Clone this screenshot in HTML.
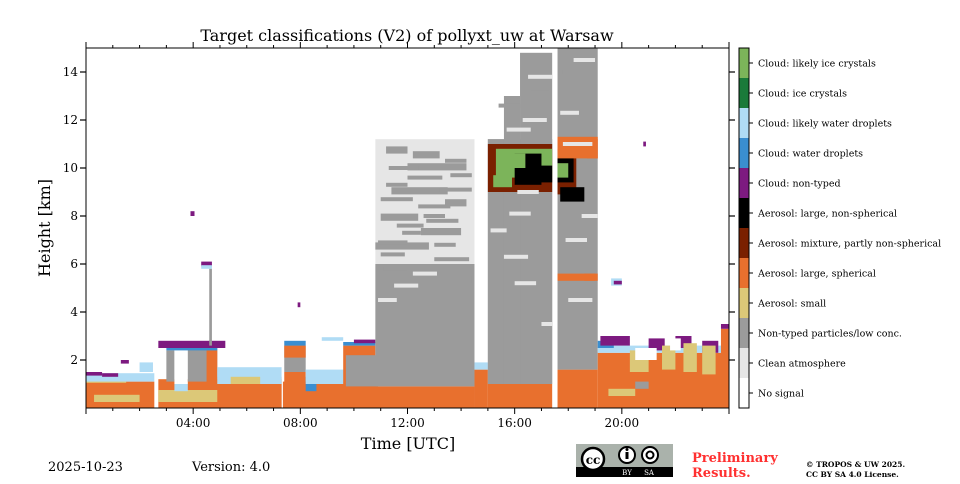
<!DOCTYPE html>
<html><head><meta charset="utf-8">
<style>
body{margin:0;background:#fff;width:960px;height:480px;overflow:hidden;font-family:"DejaVu Serif","Liberation Serif",serif;}
svg text{font-family:"DejaVu Serif","Liberation Serif",serif;}
</style></head>
<body>
<svg id="chart" width="960" height="480" viewBox="0 0 960 480" xmlns="http://www.w3.org/2000/svg">
<text x="407" y="41" font-size="16" text-anchor="middle">Target classifications (V2) of pollyxt_uw at Warsaw</text>
<g id="plot"></g>
<g id="axes"></g>
<text transform="translate(50,228) rotate(-90)" font-size="16" text-anchor="middle">Height [km]</text>
<text x="408" y="449" font-size="16" text-anchor="middle">Time [UTC]</text>
<g id="cbar"></g>
<text x="48" y="471" font-size="13">2025-10-23</text>
<text x="192" y="471" font-size="13">Version: 4.0</text>
<g>
<rect x="576" y="444" width="97" height="33" fill="#aab2ab"/>
<rect x="576" y="467" width="97" height="10" fill="#000"/>
<circle cx="593" cy="459" r="11" fill="#fff" stroke="#000" stroke-width="2.5"/>
<text x="593" y="464" font-size="12" font-weight="bold" text-anchor="middle" font-family="Liberation Sans,sans-serif">cc</text>
<circle cx="627" cy="455" r="8" fill="#fff" stroke="#000" stroke-width="2"/>
<rect x="625.5" y="452" width="3" height="7" fill="#000"/><circle cx="627" cy="449.5" r="1.5" fill="#000"/>
<circle cx="650" cy="455" r="8" fill="#fff" stroke="#000" stroke-width="2"/>
<circle cx="650" cy="455" r="3.5" fill="none" stroke="#000" stroke-width="2"/>
<text x="627" y="475" font-size="7" fill="#fff" text-anchor="middle" font-family="Liberation Sans,sans-serif">BY</text>
<text x="649" y="475" font-size="7" fill="#fff" text-anchor="middle" font-family="Liberation Sans,sans-serif">SA</text>
</g>
<text x="692" y="462" font-size="13" font-weight="bold" fill="#ff3030">Preliminary</text>
<text x="692" y="477" font-size="13" font-weight="bold" fill="#ff3030">Results.</text>
<text x="806" y="467" font-size="7.5" font-weight="bold">© TROPOS &amp; UW 2025.</text>
<text x="806" y="477" font-size="7.5" font-weight="bold">CC BY SA 4.0 License.</text>
</svg>
<script>
// class names (bottom to top) and colours
const classNames = ["No signal","Clean atmosphere","Non-typed particles/low conc.","Aerosol: small","Aerosol: large, spherical","Aerosol: mixture, partly non-spherical","Aerosol: large, non-spherical","Cloud: non-typed","Cloud: water droplets","Cloud: likely water droplets","Cloud: ice crystals","Cloud: likely ice crystals"];
const classColors = ["#ffffff","#e6e6e6","#9b9b9b","#dcc878","#e8702e","#7a2000","#000000","#7d1a80","#3a8ed0","#b0dcf5","#1a7a3a","#7cb45a"];
const xTickHours = [4,8,12,16,20];
const xTickLabels = ["04:00","08:00","12:00","16:00","20:00"];
const yTicks = [2,4,6,8,10,12,14];
// observed segments: start hour, end hour, bottom km, top km, class
const segStart = [0,0.3,0,0,0,0.6,1.3,2.0, 2.7,2.7,2.7,3.0,3.3,3.3,3.8,4.5,3.0,2.7,4.9,4.9,5.4,4.3,4.3,4.6,3.9,
 7.35,7.4,7.4,7.4,7.4,8.2,8.2,9.6,9.7,9.6,10.0,8.8,7.9,
 10.8,10.8,10.8,10.8,10.8,11.0,11.4,12.0,12.5,13.0,11.2,12.2,13.4,
 14.5,14.5,15.0,15.0,15.0,15.6,16.2,15.0,15.3,16.0,15.2,16.8,15.4,
 17.6,17.6,17.6,17.6,17.6,17.6,17.6,17.7,18.7,18.6,
 19.1,19.1,19.1,19.2,21.0,22.0,23.0,20.3,21.5,22.3,23.0,19.5,20.5,20.5,21.8,23.7,23.7,19.6,19.7,20.8];
const segEnd = [2.55,2.0,1.5,2.55,0.6,1.2,1.6,2.5, 7.3,5.5,7.3,3.3,3.8,3.8,4.9,4.9,4.9,5.2,7.3,7.3,6.5,4.7,4.7,4.7,4.05,
 10.9,8.2,8.2,8.2,8.2,8.6,10.0,10.8,10.9,10.8,10.8,9.6,8.0,
 14.5,14.5,14.5,14.5,12.8,12.4,13.5,14.2,14.0,14.4,12.0,13.2,14.2,
 15.0,15.0,17.4,17.4,15.6,16.2,17.4,17.4,17.4,17.0,15.9,17.4,16.4,
 19.1,19.1,18.3,18.2,18.0,19.1,19.1,18.6,19.1,19.0,
 24,24,19.7,20.3,21.6,22.6,23.6,21.0,22.0,22.8,23.5,20.5,21.0,21.3,22.2,24,24,20.0,20.0,20.9];
const segLow = [0,0.25,1.05,1.1,1.35,1.3,1.85,1.5, 0,0.25,1.0,1.1,1.0,0.7,1.1,1.0,2.4,2.5,0,1.0,1.0,5.9,5.8,2.6,8.0,
 0,1.0,1.5,2.1,2.6,0.7,1.0,1.0,0.9,2.6,2.7,2.8,4.2,
 0,0.9,4.0,6.0,6.6,7.8,8.9,9.9,7.2,5.2,10.6,10.4,8.4,
 0,1.6,0,1.0,1.0,1.0,1.0,9.0,9.6,9.3,9.2,9.4,10.0,
 0,1.6,8.9,9.4,9.6,10.4,5.3,8.6,10.4,5.3,
 0,2.3,2.5,2.6,2.4,2.5,2.3,1.5,1.6,1.5,1.4,0.5,0.8,2.0,2.4,2.0,3.3,5.1,5.15,10.9];
const segHigh = [1.1,0.55,1.2,1.45,1.5,1.45,2.0,1.9, 1.0,0.75,1.2,2.4,2.6,1.0,2.6,2.4,2.55,2.8,1.3,1.7,1.3,6.1,5.95,5.8,8.2,
 1.1,1.5,2.6,2.6,2.8,1.3,1.6,2.6,2.2,2.75,2.85,2.95,4.4,
 0.9,4.0,6.0,11.2,6.9,8.1,9.2,10.2,7.5,5.5,10.9,10.7,8.7,
 1.6,1.9,1.0,11.2,11.2,13.0,14.8,11.0,10.8,10.6,9.7,10.1,10.6,
 1.6,15,10.8,10.5,10.2,11.3,5.6,9.2,11.2,5.6,
 2.3,2.6,2.8,3.0,2.9,3.0,2.8,2.4,2.6,2.7,2.6,0.8,1.1,2.5,2.9,3.3,3.5,5.4,5.3,11.1];
const segClass = [4,3,3,9,7,7,7,9, 4,3,4,2,0,9,2,4,8,7,4,9,3,7,9,2,7,
 4,4,2,4,8,8,9,4,2,8,7,9,7,
 4,2,2,1,2,2,2,2,2,2,2,2,2,
 4,9,4,2,2,2,2,5,11,6,11,6,11,
 4,2,5,6,11,4,4,6,4,4,
 4,9,8,7,7,7,7,3,3,3,3,3,2,0,0,4,7,9,7,7];
// speckle stripes in gray regions (start, end, km, class)
const stripeStart=[10.9,11.5,12.2,11.0,13.0,11.8,12.6,11.2,13.4,15.1,15.8,16.3,15.4,16.6,17.7,18.3,17.8,18.5,16.0,15.6,17.0,18.0,
 10.9,11.6,12.4,13.2,11.0,12.0,13.0,11.3,12.7,13.6,11.1,12.3,15.7,16.5,17.8,18.2,16.1,17.9];
const stripeEnd  =[11.6,12.4,13.1,11.9,13.8,12.5,13.4,12.0,14.2,15.7,16.6,17.2,16.2,17.3,18.4,19.0,18.6,19.1,16.8,16.5,17.4,18.9,
 12.0,12.6,13.6,14.4,12.2,13.3,14.3,12.4,13.9,14.4,12.0,13.1,16.6,17.4,18.9,19.0,16.9,18.7];
const stripeKm   =[4.5,5.1,5.6,6.4,6.8,7.3,8.0,9.3,10.3,7.4,8.1,12.0,12.6,13.3,12.3,13.0,14.0,8.0,5.2,6.3,3.5,4.5,
 6.9,7.6,8.4,9.1,8.7,9.6,6.2,10.0,7.8,9.7,5.8,10.6,11.6,13.8,11.0,14.5,9.0,7.0];
const stripeClass=[1,1,1,2,2,2,2,2,2,1,1,1,2,2,1,2,2,1,1,1,1,1,
 2,2,2,2,2,2,2,2,2,2,2,2,1,1,1,1,1,1];

const NS="http://www.w3.org/2000/svg";
const X0=86,X1=729,Y0=408,Y1=48;
function xs(h){return X0+(h/24)*(X1-X0);}
function ys(k){return Y0-(k/15)*(Y0-Y1);}
function mk(tag,attrs,parent){const e=document.createElementNS(NS,tag);for(const k in attrs)e.setAttribute(k,attrs[k]);parent.appendChild(e);return e;}
const plot=document.getElementById('plot');
for(let i=0;i<segClass.length;i++){
  const r=mk('rect',{x:xs(segStart[i]),y:ys(segHigh[i]),width:xs(segEnd[i])-xs(segStart[i]),height:ys(segLow[i])-ys(segHigh[i]),fill:classColors[segClass[i]]},plot);
  
  
}
for(let i=0;i<stripeClass.length;i++){
  const r=mk('rect',{x:xs(stripeStart[i]),y:ys(stripeKm[i])-2,width:xs(stripeEnd[i])-xs(stripeStart[i]),height:4,fill:classColors[stripeClass[i]]},plot);
  
  
}
const ax=document.getElementById('axes');
const frame=mk('rect',{x:X0,y:Y1,width:X1-X0,height:Y0-Y1,fill:'none',stroke:'#000','stroke-width':1},ax);


for(let h=0;h<=24;h++){
  const L=(h%4===0)?6:3;
  mk('line',{x1:xs(h),x2:xs(h),y1:Y0,y2:Y0+L,stroke:'#000'},ax);
  mk('line',{x1:xs(h),x2:xs(h),y1:Y1,y2:Y1-L,stroke:'#000'},ax);
}
for(let i=0;i<xTickHours.length;i++){
  const t=mk('text',{x:xs(xTickHours[i]),y:Y0+19,'font-size':12,'text-anchor':'middle'},ax);
  t.textContent=xTickLabels[i];
  
  
}
for(let i=0;i<yTicks.length;i++){
  const y=ys(yTicks[i]);
  mk('line',{x1:X0-6,x2:X0,y1:y,y2:y,stroke:'#000','stroke-width':1.2},ax);
  mk('line',{x1:X1,x2:X1+6,y1:y,y2:y,stroke:'#000','stroke-width':1.2},ax);
  const t=mk('text',{x:X0-8,y:y+4,'font-size':12,'text-anchor':'end'},ax);
  t.textContent=yTicks[i];
  
  
}
const cb=document.getElementById('cbar');
const CX=739,CW=10,segH=30;
for(let i=0;i<classNames.length;i++){
  const y=Y0-(i+1)*segH;
  const r=mk('rect',{x:CX,y:y,width:CW,height:segH,fill:classColors[i]},cb);
  
  
  mk('line',{x1:CX+CW,x2:CX+CW+4,y1:y+segH/2,y2:y+segH/2,stroke:'#000'},cb);
  const t=mk('text',{x:758,y:y+segH/2+3.5,'font-size':9.5},cb);
  t.textContent=classNames[i];
  
  
}
mk('rect',{x:CX,y:Y1,width:CW,height:Y0-Y1,fill:'none',stroke:'#000'},cb);
</script>
</body></html>
